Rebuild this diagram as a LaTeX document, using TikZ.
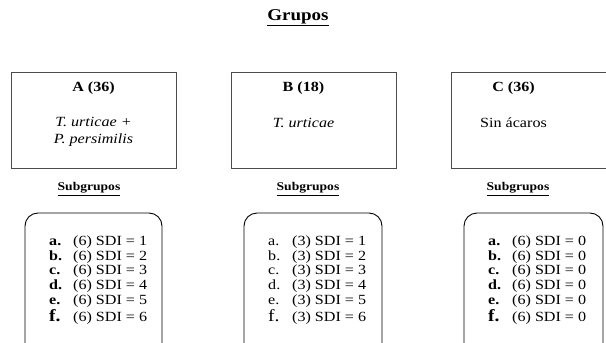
\documentclass[tikz,border=0pt]{standalone}
\usepackage{fontspec}
\setmainfont[FakeStretch=1.15]{Liberation Serif}
\begin{document}
\begin{tikzpicture}[x=1pt,y=-1pt,
  grp/.style={draw=black!70, line width=1.1pt, minimum width=165pt, minimum height=96pt, anchor=north west, inner sep=0pt},
  sub/.style={draw=black, line width=0.9pt, rounded corners=13pt},
  head/.style={font=\bfseries\fontsize{14}{17}\selectfont},
  desc/.style={align=center, font=\fontsize{14}{17.5}\selectfont},
  subt/.style={font=\bfseries\fontsize{11.8}{15}\selectfont},
  lab/.style={anchor=base west, inner sep=0pt, font=\fontsize{14}{15}\selectfont},
  bigf/.style={anchor=base west, inner sep=0pt, font=\fontsize{17}{18}\selectfont},
  title/.style={font=\bfseries\fontsize{16.5}{20}\selectfont}]
\useasboundingbox (0,0) rectangle (606,343);
\clip (0,0) rectangle (606,343);
% title
\node[title] (T) at (298,18) {\underline{Grupos}};
% group boxes
\node[grp] (A) at (11,72) {};
\node[grp] (B) at (231,72) {};
\node[grp, minimum width=170pt] (C) at (451,72) {};
\node[head] (Ah) at (93.5,88) {A (36)};
\node[head] (Bh) at (303.5,88) {B (18)};
\node[head] (Ch) at (513.5,88) {C (36)};
\node[desc] (Ad) at (93.5,132) {\itshape T. urticae +\\\itshape P. persimilis};
\node[desc] (Bd) at (303.5,123) {\itshape T. urticae};
\node[desc] (Cd) at (513.5,123) {Sin ácaros};
% subgroup titles
\node[subt] (As) at (89,189) {\underline{Subgrupos}};
\node[subt] (Bs) at (308,189) {\underline{Subgrupos}};
\node[subt] (Cs) at (518,189) {\underline{Subgrupos}};
% subgroup boxes
\draw[sub] (25,213) rectangle (162,380);
\draw[sub] (244,213) rectangle (382,380);
\draw[sub] (464,213) rectangle (603,380);
% rows
\foreach \l/\y [count=\i] in {a/245,b/260,c/274.5,d/289.5,e/304.5} {
  \node[lab] (Al\i) at (49,\y) {\textbf{\l.}};
  \node[lab] (At\i) at (73,\y) {(6) SDI = \i};
  \node[lab] (Bl\i) at (268,\y) {\l.};
  \node[lab] (Bt\i) at (292,\y) {(3) SDI = \i};
  \node[lab] (Cl\i) at (488,\y) {\textbf{\l.}};
  \node[lab] (Ct\i) at (512,\y) {(6) SDI = 0};
}
\node[bigf] (Al6) at (49,321.5) {\textbf{f.}};
\node[lab] (At6) at (73,321.5) {(6) SDI = 6};
\node[bigf] (Bl6) at (268,321.5) {f.};
\node[lab] (Bt6) at (292,321.5) {(3) SDI = 6};
\node[bigf] (Cl6) at (488,321.5) {\textbf{f.}};
\node[lab] (Ct6) at (512,321.5) {(6) SDI = 0};
\end{tikzpicture}
\end{document}
